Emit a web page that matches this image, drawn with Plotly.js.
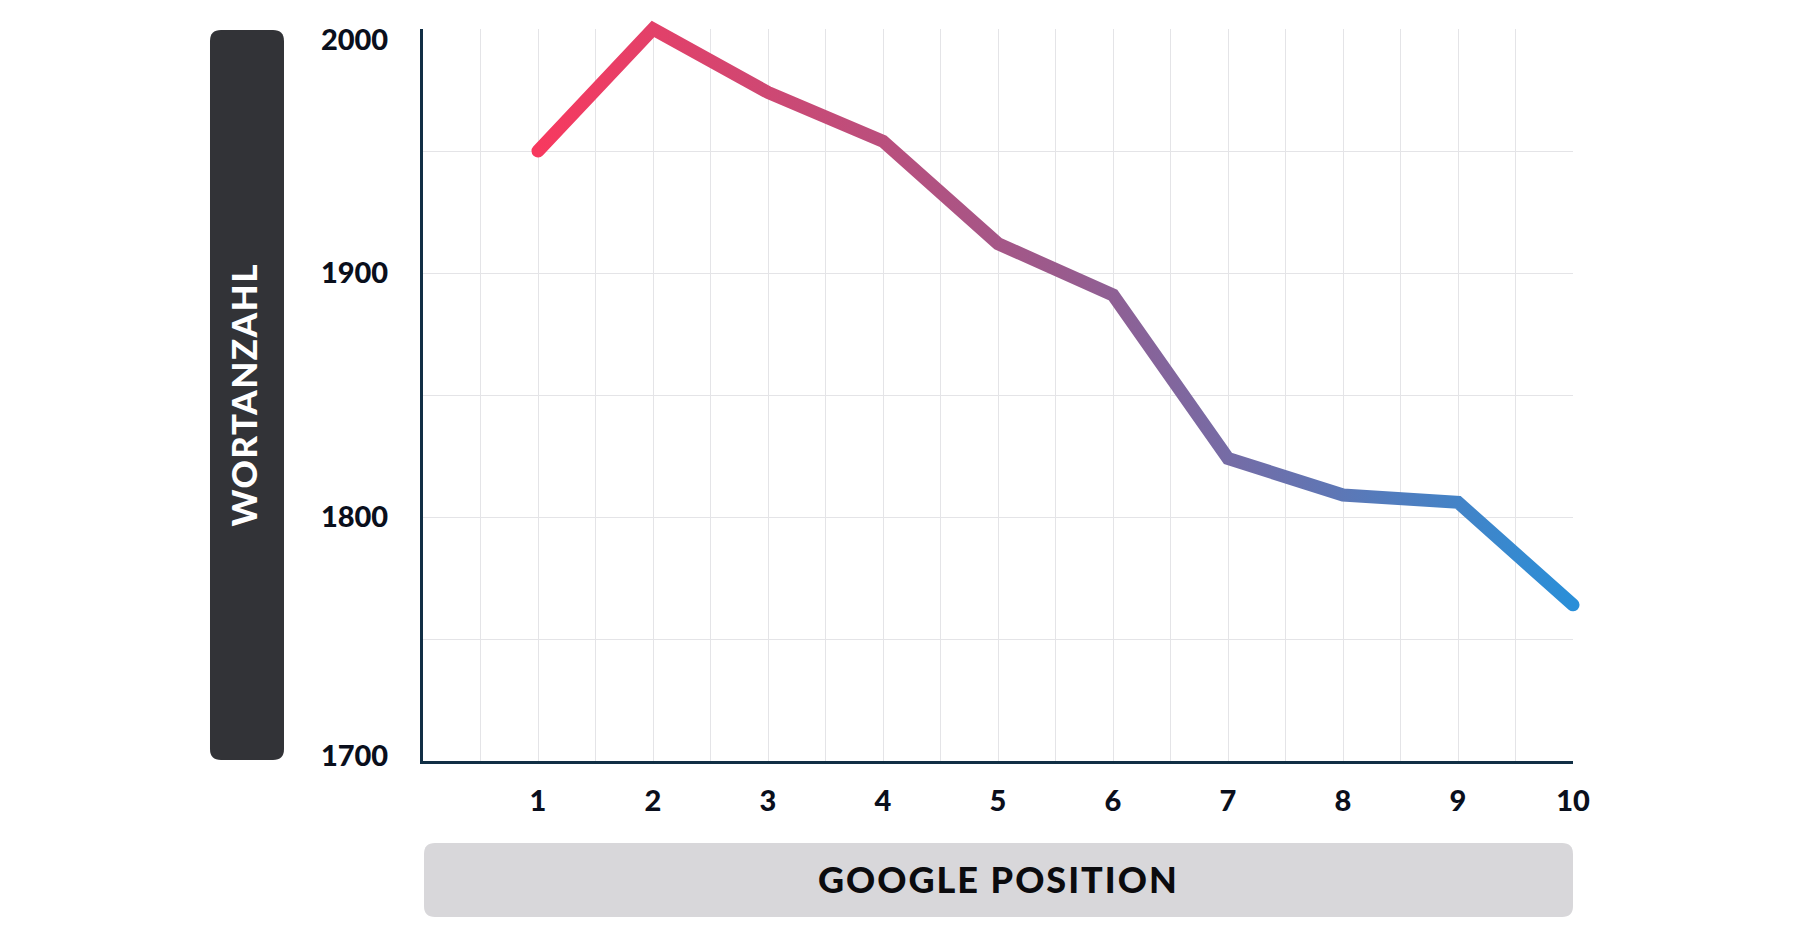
<!DOCTYPE html>
<html>
<head>
<meta charset="utf-8">
<script src="https://cdn.plot.ly/plotly-3.0.1.min.js"></script>
<style>
  html, body { margin: 0; padding: 0; background: #ffffff; }
  #chart { width: 1800px; height: 942px; }
</style>
</head>
<body>
<div id="chart"></div>
<script>
// ---- data ----
const positions = [1, 2, 3, 4, 5, 6, 7, 8, 9, 10];
const wordCounts = [1950, 2000, 1974, 1954, 1912, 1891, 1824, 1809, 1806, 1764];
const xTickVals = [1, 2, 3, 4, 5, 6, 7, 8, 9, 10];
const yTickVals = [1700, 1800, 1900, 2000];
const xTitle = "GOOGLE POSITION";
const yTitle = "WORTANZAHL";

// ---- layout geometry (pixels) ----
const W = 1800, H = 942;
const L = 423, R = 1573, T = 29, B = 761;
const pw = R - L, ph = B - T;
function px(x) { return (x - L) / pw; }
function py(y) { return (B - y) / ph; }
function roundRect(x0, y0, x1, y1, r) {
  const P = (x, y) => px(x).toFixed(5) + ',' + py(y).toFixed(5);
  return 'M' + P(x0 + r, y0) +
    ' L' + P(x1 - r, y0) + ' Q' + P(x1, y0) + ' ' + P(x1, y0 + r) +
    ' L' + P(x1, y1 - r) + ' Q' + P(x1, y1) + ' ' + P(x1 - r, y1) +
    ' L' + P(x0 + r, y1) + ' Q' + P(x0, y1) + ' ' + P(x0, y1 - r) +
    ' L' + P(x0, y0 + r) + ' Q' + P(x0, y0) + ' ' + P(x0 + r, y0) + ' Z';
}

const font = 'Lato, "Open Sans", "DejaVu Sans", sans-serif';
const gridColor = '#e4e4e7';
const axisColor = '#112f45';

const trace = {
  type: 'scatter',
  mode: 'lines',
  x: positions,
  y: wordCounts,
  line: { color: '#9a5a8e', width: 13 },
  hoverinfo: 'skip',
  cliponaxis: false
};

const layout = {
  width: W, height: H,
  margin: { l: L, r: W - R, t: T, b: H - B, pad: 0 },
  paper_bgcolor: '#ffffff',
  plot_bgcolor: '#ffffff',
  showlegend: false,
  xaxis: {
    range: [0, 10],
    tickmode: 'array',
    tickvals: xTickVals,
    ticks: '',
    ticklabelstandoff: 12,
    tickfont: { family: font, size: 29, color: '#0a0f1c', weight: 900 },
    showgrid: true,
    gridcolor: gridColor,
    gridwidth: 1,
    minor: { tick0: 0, dtick: 0.5, showgrid: true, gridcolor: gridColor, gridwidth: 1, ticks: '' },
    showline: true,
    linecolor: axisColor,
    linewidth: 3,
    zeroline: false,
    fixedrange: true
  },
  yaxis: {
    range: [1700, 2000],
    tickmode: 'array',
    tickvals: yTickVals,
    ticks: '',
    ticklabelstandoff: 26,
    tickfont: { family: font, size: 29, color: '#0a0f1c', weight: 900 },
    showgrid: true,
    gridcolor: gridColor,
    gridwidth: 1,
    minor: { tick0: 1700, dtick: 50, showgrid: true, gridcolor: gridColor, gridwidth: 1, ticks: '' },
    showline: true,
    linecolor: axisColor,
    linewidth: 3,
    zeroline: false,
    fixedrange: true
  },
  shapes: [
    { type: 'path', xref: 'paper', yref: 'paper', path: roundRect(210, 30, 284, 760, 11),
      fillcolor: '#323337', line: { width: 0 }, layer: 'below' },
    { type: 'path', xref: 'paper', yref: 'paper', path: roundRect(424, 843, 1573, 917, 11),
      fillcolor: '#d8d7da', line: { width: 0 }, layer: 'below' }
  ],
  annotations: [
    { xref: 'paper', yref: 'paper', x: px(243), y: py(395), text: yTitle, showarrow: false,
      textangle: -90, xanchor: 'center', yanchor: 'middle',
      font: { family: font, size: 35, color: '#ffffff', weight: 900 } },
    { xref: 'paper', yref: 'paper', x: px(998), y: py(879), text: xTitle, showarrow: false,
      xanchor: 'center', yanchor: 'middle',
      font: { family: font, size: 36, color: '#0b0b0e', weight: 900 } }
  ]
};

Plotly.newPlot('chart', [trace], layout, { staticPlot: true, displayModeBar: false }).then(function (gd) {
  const svg = gd.querySelector('svg.main-svg');
  const ns = 'http://www.w3.org/2000/svg';
  let defs = svg.querySelector('defs');
  if (!defs) { defs = document.createElementNS(ns, 'defs'); svg.insertBefore(defs, svg.firstChild); }
  const grad = document.createElementNS(ns, 'linearGradient');
  grad.setAttribute('id', 'lineGrad');
  grad.setAttribute('x1', '0'); grad.setAttribute('y1', '0');
  grad.setAttribute('x2', '1'); grad.setAttribute('y2', '0');
  [['0', '#f7395f'], ['0.5', '#9b5a8c'], ['1', '#2a8fd8']].forEach(function (s) {
    const st = document.createElementNS(ns, 'stop');
    st.setAttribute('offset', s[0]);
    st.setAttribute('stop-color', s[1]);
    grad.appendChild(st);
  });
  defs.appendChild(grad);
  // let the thick line run past the plot edges like the original
  gd.querySelectorAll('.cartesianlayer [clip-path]').forEach(function (el) {
    el.removeAttribute('clip-path');
  });
  gd.querySelectorAll('.scatterlayer .js-line').forEach(function (p) {
    p.style.stroke = 'url(#lineGrad)';
    p.style.strokeLinecap = 'round';
    p.style.strokeLinejoin = 'miter';
  });
  gd.querySelectorAll('.annotation-text').forEach(function (t, i) {
    t.style.letterSpacing = i === 0 ? '1.5px' : '2px';
  });
  // the end labels sit slightly inside the range in the original
  const nudge = { '2000': 11, '1700': -5 };
  gd.querySelectorAll('.yaxislayer-above .ytick text').forEach(function (t) {
    const d = nudge[t.textContent];
    if (d) t.setAttribute('y', String(parseFloat(t.getAttribute('y') || '0') + d));
  });
});
</script>
</body>
</html>
